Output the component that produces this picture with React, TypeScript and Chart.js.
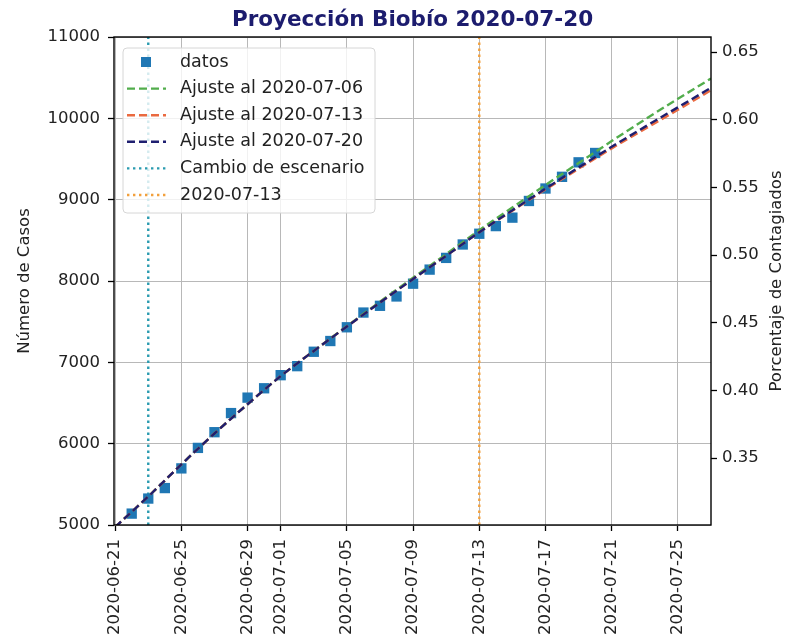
import React, { useEffect, useRef } from "react";
import { Chart, registerables } from "chart.js";

Chart.register(...registerables);

// ---------- data ----------
const TITULO = "Proyección Biobío 2020-07-20";
const POBLACION = 1663696;
const FECHA_BASE = "2020-06-21";

const FECHAS_DATOS = [
  "2020-06-22", "2020-06-23", "2020-06-24", "2020-06-25", "2020-06-26", "2020-06-27",
  "2020-06-28", "2020-06-29", "2020-06-30", "2020-07-01", "2020-07-02", "2020-07-03",
  "2020-07-04", "2020-07-05", "2020-07-06", "2020-07-07", "2020-07-08", "2020-07-09",
  "2020-07-10", "2020-07-11", "2020-07-12", "2020-07-13", "2020-07-14", "2020-07-15",
  "2020-07-16", "2020-07-17", "2020-07-18", "2020-07-19", "2020-07-20",
];
const CASOS = [
  5140, 5325, 5454, 5696, 5948, 6141, 6376, 6566, 6681, 6842, 6953, 7130,
  7262, 7431, 7612, 7695, 7810, 7967, 8140, 8284, 8449, 8581, 8675, 8779,
  8984, 9137, 9281, 9459, 9574,
];

const FECHAS_AJUSTE = [
  "2020-06-21", "2020-06-23", "2020-06-25", "2020-06-27", "2020-06-29", "2020-07-01",
  "2020-07-03", "2020-07-05", "2020-07-07", "2020-07-09", "2020-07-11", "2020-07-13",
  "2020-07-15", "2020-07-17", "2020-07-19", "2020-07-21", "2020-07-23", "2020-07-25",
  "2020-07-27",
];
const AJUSTE_0706 = [
  4975, 5350, 5745, 6125, 6485, 6830, 7140, 7445, 7745, 8040, 8330, 8625,
  8905, 9180, 9450, 9720, 9985, 10240, 10490,
];
const AJUSTE_0713 = [
  4975, 5350, 5745, 6125, 6485, 6830, 7140, 7440, 7735, 8025, 8310, 8600,
  8865, 9125, 9380, 9630, 9870, 10105, 10345,
];
const AJUSTE_0720 = [
  4975, 5350, 5745, 6125, 6485, 6830, 7140, 7440, 7735, 8025, 8310, 8600,
  8870, 9135, 9395, 9650, 9895, 10135, 10375,
];

const FECHA_CAMBIO = "2020-06-23";
const FECHA_REF = "2020-07-13";

const X_TICKS = [
  "2020-06-21", "2020-06-25", "2020-06-29", "2020-07-01", "2020-07-05",
  "2020-07-09", "2020-07-13", "2020-07-17", "2020-07-21", "2020-07-25",
];
const X_MIN_FECHA = "2020-06-21";
const X_MAX_FECHA = "2020-07-27";
const Y_TICKS = [5000, 6000, 7000, 8000, 9000, 10000, 11000];
const Y2_TICKS = [0.35, 0.4, 0.45, 0.5, 0.55, 0.6, 0.65];

const LEYENDA = [
  "datos",
  "Ajuste al 2020-07-06",
  "Ajuste al 2020-07-13",
  "Ajuste al 2020-07-20",
  "Cambio de escenario",
  "2020-07-13",
];

// ---------- helpers ----------
const DIA = 86400000;
const dia = (s: string) => (Date.parse(s) - Date.parse(FECHA_BASE)) / DIA;

const C_DATOS = "#1f77b4";
const C_0706 = "#52ad4c";
const C_0713 = "#ea6a40";
const C_0720 = "#1f1f70";
const C_CAMBIO = "#2a9bb0";
const C_REF = "#f2a03c";

const FONT = "'DejaVu Sans', sans-serif";
const DASH = [8, 4];
const DOT = [2.4, 3.6];

const Y_MIN = Y_TICKS[0];
const Y_MAX = Y_TICKS[Y_TICKS.length - 1];

export default function App() {
  const ref = useRef<HTMLCanvasElement | null>(null);

  useEffect(() => {
    const canvas = ref.current;
    if (!canvas) return;

    const toXY = (fechas: string[], vals: number[]) =>
      fechas.map((f, i) => ({ x: dia(f), y: vals[i] }));

    const lineDs = (label: string, vals: number[], color: string, order: number) => ({
      label,
      data: toXY(FECHAS_AJUSTE, vals),
      showLine: true,
      borderColor: color,
      borderWidth: 2.4,
      borderDash: DASH,
      pointRadius: 0,
      cubicInterpolationMode: "monotone" as const,
      yAxisID: "y",
      order,
    });

    const vline = (label: string, fecha: string, color: string, order: number) => ({
      label,
      data: [
        { x: dia(fecha), y: Y_MIN },
        { x: dia(fecha), y: Y_MAX },
      ],
      showLine: true,
      borderColor: color,
      borderWidth: 2.4,
      borderDash: DOT,
      pointRadius: 0,
      yAxisID: "y",
      order,
    });

    const decor = {
      id: "decor",
      afterDraw(chart: any) {
        const { ctx, chartArea: a } = chart;
        ctx.save();
        // frame
        ctx.strokeStyle = "#000";
        ctx.lineWidth = 1.4;
        ctx.strokeRect(a.left, a.top, a.right - a.left, a.bottom - a.top);

        // title
        ctx.fillStyle = "#1c1c6e";
        ctx.font = `bold 21.5px ${FONT}`;
        ctx.textAlign = "center";
        ctx.textBaseline = "alphabetic";
        ctx.fillText(TITULO, (a.left + a.right) / 2, 26);

        // axis titles
        ctx.fillStyle = "#222";
        ctx.font = `16.5px ${FONT}`;
        ctx.textBaseline = "middle";
        ctx.save();
        ctx.translate(25, (a.top + a.bottom) / 2);
        ctx.rotate(-Math.PI / 2);
        ctx.fillText("Número de Casos", 0, 0);
        ctx.restore();
        ctx.save();
        ctx.translate(777, (a.top + a.bottom) / 2);
        ctx.rotate(-Math.PI / 2);
        ctx.fillText("Porcentaje de Contagiados", 0, 0);
        ctx.restore();

        // legend
        const bx = 123, by = 48, bw = 252, bh = 165, r = 4;
        ctx.beginPath();
        ctx.moveTo(bx + r, by);
        ctx.arcTo(bx + bw, by, bx + bw, by + bh, r);
        ctx.arcTo(bx + bw, by + bh, bx, by + bh, r);
        ctx.arcTo(bx, by + bh, bx, by, r);
        ctx.arcTo(bx, by, bx + bw, by, r);
        ctx.closePath();
        ctx.fillStyle = "rgba(255,255,255,0.8)";
        ctx.fill();
        ctx.strokeStyle = "#d6d6d6";
        ctx.lineWidth = 1;
        ctx.stroke();

        const styles = [
          { type: "sq", color: C_DATOS },
          { type: "dash", color: C_0706 },
          { type: "dash", color: C_0713 },
          { type: "dash", color: C_0720 },
          { type: "dot", color: C_CAMBIO },
          { type: "dot", color: C_REF },
        ];
        ctx.font = `17.5px ${FONT}`;
        ctx.textAlign = "left";
        ctx.textBaseline = "middle";
        LEYENDA.forEach((txt, i) => {
          const y = 62 + i * 26.6;
          const s = styles[i];
          if (s.type === "sq") {
            ctx.fillStyle = s.color;
            ctx.fillRect(146 - 5, y - 5, 10, 10);
          } else {
            ctx.beginPath();
            ctx.setLineDash(s.type === "dash" ? DASH : DOT);
            ctx.strokeStyle = s.color;
            ctx.lineWidth = 2.4;
            ctx.moveTo(127, y);
            ctx.lineTo(166, y);
            ctx.stroke();
            ctx.setLineDash([]);
          }
          ctx.fillStyle = "#222";
          ctx.fillText(txt, 180, y);
        });
        ctx.restore();
      },
    };

    const chart = new Chart(canvas, {
      type: "scatter",
      data: {
        datasets: [
          lineDs(LEYENDA[3], AJUSTE_0720, C_0720, 1),
          lineDs(LEYENDA[2], AJUSTE_0713, C_0713, 2),
          lineDs(LEYENDA[1], AJUSTE_0706, C_0706, 3),
          {
            label: LEYENDA[0],
            data: toXY(FECHAS_DATOS, CASOS),
            pointStyle: "rect",
            pointRadius: 7.3,
            pointBorderWidth: 0,
            pointBackgroundColor: C_DATOS,
            borderColor: C_DATOS,
            yAxisID: "y",
            order: 4,
          } as any,
          vline(LEYENDA[4], FECHA_CAMBIO, C_CAMBIO, 5),
          vline(LEYENDA[5], FECHA_REF, C_REF, 6),
        ] as any,
      },
      options: {
        animation: false,
        responsive: false,
        maintainAspectRatio: false,
        layout: { padding: { top: 37, left: 0, right: 0, bottom: 0 } },
        plugins: {
          legend: { display: false },
          title: { display: false },
          tooltip: { enabled: false },
        },
        scales: {
          x: {
            type: "linear",
            min: dia(X_MIN_FECHA) - 0.07,
            max: dia(X_MAX_FECHA),
            afterBuildTicks: (s: any) => {
              s.ticks = X_TICKS.map((f) => ({ value: dia(f) }));
            },
            afterFit: (s: any) => {
              s.height = 118;
            },
            ticks: {
              autoSkip: false,
              minRotation: 90,
              maxRotation: 90,
              padding: 8,
              color: "#222",
              font: { family: FONT, size: 16.5 },
              callback: (v: any) => {
                const i = X_TICKS.findIndex((f) => Math.abs(dia(f) - v) < 0.01);
                return i >= 0 ? X_TICKS[i] : "";
              },
            },
            grid: {
              color: "#b8b8b8",
              lineWidth: 1,
              tickLength: 6,
              tickColor: "#000",
              tickWidth: 1.3,
            },
            border: { display: false },
          },
          y: {
            type: "linear",
            position: "left",
            min: Y_MIN,
            max: Y_MAX,
            afterBuildTicks: (s: any) => {
              s.ticks = Y_TICKS.map((v) => ({ value: v }));
            },
            afterFit: (s: any) => {
              s.width = 114;
            },
            ticks: {
              padding: 8,
              color: "#222",
              font: { family: FONT, size: 16.5 },
              callback: (v: any) => String(v),
            },
            grid: {
              color: "#b8b8b8",
              lineWidth: 1,
              tickLength: 6,
              tickColor: "#000",
              tickWidth: 1.3,
            },
            border: { display: false },
          },
          y1: {
            type: "linear",
            position: "right",
            min: (Y_MIN * 100) / POBLACION,
            max: (Y_MAX * 100) / POBLACION,
            afterBuildTicks: (s: any) => {
              s.ticks = Y2_TICKS.map((v) => ({ value: v }));
            },
            afterFit: (s: any) => {
              s.width = 76;
            },
            ticks: {
              padding: 5,
              color: "#222",
              font: { family: FONT, size: 16.5 },
              callback: (v: any) => Number(v).toFixed(2),
            },
            grid: {
              drawOnChartArea: false,
              tickLength: 6,
              tickColor: "#000",
              tickWidth: 1.3,
            },
            border: { display: false },
          },
        },
      } as any,
      plugins: [decor],
    });

    return () => chart.destroy();
  }, []);

  return (
    <div style={{ position: "fixed", left: 0, top: 0, width: 787, height: 643, background: "#fff" }}>
      <canvas ref={ref} width={787} height={643} style={{ width: 787, height: 643, display: "block" }} />
    </div>
  );
}
